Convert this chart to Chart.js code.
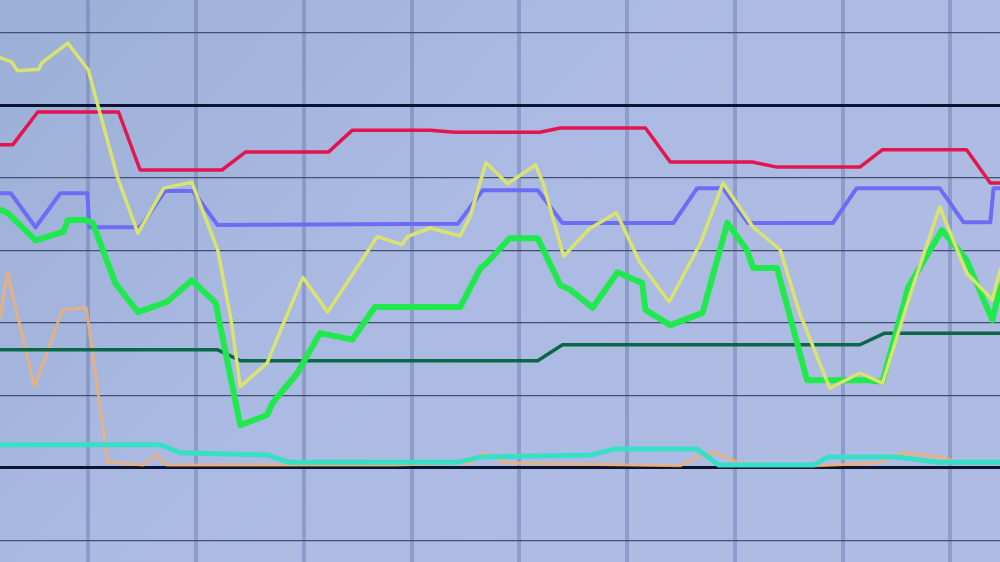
<!DOCTYPE html>
<html>
<head>
<meta charset="utf-8">
<script src="https://cdn.jsdelivr.net/npm/chart.js@4/dist/chart.umd.min.js"></script>
<style>
  html, body { margin: 0; padding: 0; background: #a8b7df; }
  #wrap { width: 1000px; height: 562px; position: relative; }
</style>
</head>
<body>
<div id="wrap"><canvas id="myChart"></canvas></div>
<script>
// x = time (grid every 10), y = level (grid every 10)
const xTicks = [0, 10, 20, 30, 40, 50, 60, 70, 80];
const yTicks = [-10, 0, 10, 20, 30, 40, 50, 60];
const heavyLines = [0, 50];

const yellowX = [-8.2, -7.1, -6.6, -4.6, -4.3, -1.9, 0, 0.5, 2.7, 4.6, 7.0, 9.6, 12.0, 13.2, 14.1, 16.6, 17.2, 19.9, 22.2, 24.6, 26.8, 29.1, 29.6, 31.7, 34.5, 35.4, 36.9, 38.9, 41.5, 42.2, 44.1, 46.5, 49.0, 51.2, 53.9, 56.8, 58.9, 61.7, 64.2, 66.0, 68.8, 71.6, 73.7, 76.3, 79.0, 81.5, 83.9, 84.6];
const yellowY = [56.6, 56.0, 54.8, 55.0, 55.9, 58.6, 54.9, 52.1, 40.1, 32.4, 38.6, 39.4, 30.1, 20.8, 11.2, 14.5, 16.7, 26.3, 21.5, 26.9, 31.9, 30.8, 31.9, 33.1, 32.0, 34.6, 42.1, 39.2, 41.8, 39.3, 29.2, 33.0, 35.2, 28.3, 22.9, 31.0, 39.3, 33.2, 30.1, 21.4, 11.0, 13.1, 11.7, 24.1, 36.0, 26.9, 23.2, 27.3];

const greenX = [-8.2, -7.5, -4.9, -2.3, -1.9, -0.3, 0.4, 2.5, 4.6, 7.3, 9.6, 11.8, 14.1, 16.6, 17.1, 19.4, 21.5, 24.5, 26.6, 34.5, 36.4, 37.0, 39.1, 41.7, 43.8, 44.7, 46.8, 49.1, 51.4, 51.7, 54.0, 57.0, 59.3, 61.1, 61.7, 63.9, 66.7, 72.3, 73.7, 76.1, 79.2, 81.5, 83.9, 84.6];
const greenY = [35.6, 35.2, 31.4, 32.6, 34.2, 34.2, 33.8, 25.5, 21.5, 22.9, 25.9, 22.8, 5.9, 7.3, 9.0, 13.1, 18.6, 17.7, 22.2, 22.2, 27.6, 28.3, 31.7, 31.7, 25.2, 24.6, 22.1, 27.0, 25.5, 21.8, 19.7, 21.4, 33.8, 30.1, 27.6, 27.6, 12.1, 12.1, 11.9, 25.0, 32.8, 28.7, 20.4, 25.0];

const redX = [-8.2, -7.0, -4.7, 2.8, 4.8, 12.4, 14.6, 22.3, 24.5, 31.7, 34.0, 41.9, 43.8, 51.7, 54.0, 61.6, 63.9, 71.6, 73.7, 81.5, 83.7, 84.6];
const redY = [44.6, 44.6, 49.1, 49.1, 41.1, 41.1, 43.6, 43.6, 46.6, 46.6, 46.3, 46.3, 46.9, 46.9, 42.2, 42.2, 41.5, 41.5, 43.9, 43.9, 39.3, 39.3];

const blueX = [-8.2, -7.2, -4.9, -2.6, -0.1, 0.1, 4.8, 7.1, 9.7, 12.0, 34.3, 36.6, 41.7, 44.0, 54.3, 56.5, 58.9, 61.2, 69.1, 71.3, 79.0, 81.2, 83.7, 84.0, 84.6];
const blueY = [37.9, 37.9, 33.2, 37.9, 37.9, 33.2, 33.2, 38.2, 38.2, 33.5, 33.7, 38.3, 38.3, 33.8, 33.8, 38.6, 38.6, 33.8, 33.8, 38.6, 38.6, 33.9, 33.9, 38.6, 38.6];

const darkGreenX = [-8.2, 12.0, 14.1, 41.7, 44.0, 71.6, 73.9, 84.6];
const darkGreenY = [16.3, 16.3, 14.8, 14.8, 17.0, 17.0, 18.6, 18.6];

const cyanX = [-8.2, 6.7, 8.5, 16.6, 18.5, 34.3, 36.4, 46.7, 48.8, 56.5, 58.5, 67.3, 68.6, 75.1, 78.8, 84.6];
const cyanY = [3.2, 3.2, 2.1, 1.8, 0.8, 0.8, 1.5, 1.8, 2.6, 2.6, 0.4, 0.4, 1.5, 1.5, 0.8, 0.8];

const orangeX = [-8.2, -7.5, -5.0, -2.4, -0.2, 1.8, 5.1, 6.3, 7.3, 28.4, 35.5, 36.7, 38.7, 54.9, 56.8, 58.1, 60.5, 67.6, 73.2, 75.6, 79.5, 80.9, 84.6];
const orangeY = [20.7, 26.9, 11.2, 21.8, 22.1, 0.8, 0.4, 1.8, 0.4, 0.4, 0.7, 2.1, 0.7, 0.3, 1.7, 2.2, 0.6, 0.3, 0.7, 2.1, 1.4, 0.6, 0.6];

const points = function (xs, ys) {
  return xs.map((x, i) => ({ x: x, y: ys[i] }));
};

const series = function (xs, ys, color, width) {
  return {
    data: points(xs, ys),
    borderColor: color,
    borderWidth: width,
    fill: false,
  };
};

const background = {
  id: "background",
  beforeDraw(chart) {
    const c = chart.ctx;
    const g = c.createLinearGradient(0, 0, chart.width * 0.6, chart.height);
    g.addColorStop(0, "#9bafd7");
    g.addColorStop(0.55, "#abbae2");
    g.addColorStop(1, "#aebce4");
    c.save();
    c.fillStyle = g;
    c.fillRect(0, 0, chart.width, chart.height);
    c.restore();
  },
};

const config = {
  type: "line",
  data: {
    datasets: [
      series(yellowX, yellowY, "#d8e46e", 3.5),
      series(greenX, greenY, "#1fe94c", 6),
      series(blueX, blueY, "#6c6cf6", 4),
      series(redX, redY, "#e2154f", 3.5),
      series(darkGreenX, darkGreenY, "#0b6846", 3.5),
      series(cyanX, cyanY, "#36dfc6", 5),
      series(orangeX, orangeY, "rgba(240,176,115,0.85)", 3),
    ],
  },
  options: {
    responsive: true,
    maintainAspectRatio: false,
    animation: false,
    layout: { padding: 0 },
    elements: {
      point: { radius: 0 },
      line: { tension: 0, borderJoinStyle: "round", borderCapStyle: "round" },
    },
    scales: {
      x: {
        type: "linear",
        min: -8.2,
        max: 84.6,
        afterBuildTicks: (axis) => {
          axis.ticks = xTicks.map((v) => ({ value: v }));
        },
        ticks: { display: false },
        border: { display: false },
        grid: {
          drawTicks: false,
          color: "rgba(105,120,168,0.45)",
          lineWidth: 4,
        },
      },
      y: {
        type: "linear",
        min: -12.97,
        max: 64.55,
        afterBuildTicks: (axis) => {
          axis.ticks = yTicks.map((v) => ({ value: v }));
        },
        ticks: { display: false },
        border: { display: false },
        grid: {
          drawTicks: false,
          color: (ctx) => (heavyLines.includes(ctx.tick.value) ? "#0b1430" : "#434f6e"),
          lineWidth: (ctx) => (heavyLines.includes(ctx.tick.value) ? 3 : 1.3),
        },
      },
    },
    plugins: {
      legend: { display: false },
      tooltip: { enabled: false },
    },
  },
  plugins: [background],
};

const ctx = document.getElementById("myChart");
const chart = new Chart(ctx, config);
</script>
</body>
</html>
